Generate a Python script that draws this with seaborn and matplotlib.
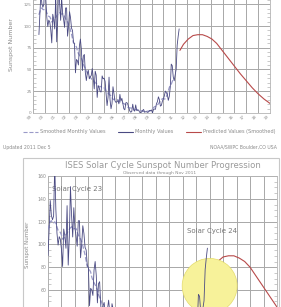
import numpy as np
import pandas as pd
import seaborn as sns
import matplotlib.pyplot as plt
from matplotlib.patches import Ellipse, Rectangle
from matplotlib.lines import Line2D
from matplotlib.ticker import MultipleLocator

# Monthly sunspot numbers, Jan 2000 .. Nov 2011
monthly = [
    90.1, 112.9, 138.5, 125.5, 121.6, 124.9, 170.1, 130.5, 109.7, 99.4, 106.8, 104.4,
    95.6, 80.6, 113.5, 107.7, 96.6, 134.0, 81.8, 106.4, 150.7, 125.5, 106.5, 132.2,
    114.1, 107.4, 98.4, 120.7, 120.8, 88.3, 99.6, 116.4, 109.6, 97.5, 95.0, 81.6,
    79.5, 46.2, 61.5, 60.0, 55.2, 77.4, 85.0, 72.7, 48.7, 65.5, 67.3, 46.5,
    37.3, 45.8, 49.1, 39.3, 41.5, 43.2, 51.1, 40.9, 27.7, 48.0, 43.5, 17.9,
    31.3, 29.2, 24.5, 24.2, 42.7, 39.3, 40.0, 36.4, 22.1, 8.5, 18.0, 41.2,
    15.3, 4.9, 10.6, 30.2, 22.3, 13.9, 12.2, 12.9, 14.4, 10.5, 21.4, 13.6,
    16.9, 10.6, 4.8, 3.7, 11.7, 12.0, 10.0, 6.2, 2.4, 0.9, 1.7, 10.1,
    3.3, 2.1, 9.3, 2.9, 3.2, 3.4, 0.8, 0.5, 1.1, 2.9, 4.1, 0.8,
    1.5, 1.4, 0.7, 1.2, 2.9, 2.6, 3.5, 0.0, 4.2, 4.6, 4.2, 10.6,
    13.1, 18.6, 15.4, 7.9, 8.8, 13.5, 16.1, 19.6, 25.2, 23.5, 21.6, 14.5,
    19.0, 29.4, 56.2, 54.4, 41.6, 37.0, 43.9, 50.6, 78.0, 88.0, 96.7,
]
# 13-month smoothed values, Jan 2000 .. May 2011
smoothed = [
    112.9, 116.8, 119.9, 120.8, 119.0, 118.7, 119.8, 118.6, 115.1, 112.3, 111.1, 110.6,
    108.1, 104.6, 104.8, 107.5, 108.6, 109.8, 111.7, 113.3, 114.6, 115.5, 114.3, 113.6,
    114.0, 113.9, 110.7, 108.3, 106.1, 104.7, 102.2, 98.9, 94.8, 90.8, 85.5, 80.4,
    79.7, 77.6, 75.8, 71.3, 68.4, 66.5, 64.7, 62.6, 60.0, 56.0, 53.5, 51.3,
    48.4, 45.6, 43.8, 42.7, 40.9, 39.6, 38.4, 37.1, 36.6, 35.0, 34.0, 33.6,
    31.0, 30.3, 30.6, 30.0, 30.1, 29.5, 28.9, 27.7, 25.1, 23.7, 22.9, 21.6,
    20.5, 19.9, 17.9, 15.9, 15.3, 16.3, 16.2, 15.4, 15.2, 14.4, 12.6, 12.2,
    12.0, 11.4, 10.8, 10.2, 9.5, 8.3, 6.9, 6.0, 5.8, 5.8, 5.5, 5.2,
    4.6, 4.1, 4.0, 4.1, 3.8, 3.4, 3.3, 3.0, 2.5, 1.8, 1.7, 1.7,
    1.8, 1.9, 2.0, 2.2, 2.3, 2.7, 3.6, 4.8, 6.2, 7.1, 7.6, 8.3,
    9.3, 10.6, 12.3, 14.0, 15.5, 16.4, 16.5, 16.0, 16.4, 18.8, 22.0, 25.4,
    29.2, 31.9, 33.1, 36.1, 39.5,
]
pred_years = [2011.9, 2012.2, 2012.6, 2013.0, 2013.4, 2013.8, 2014.2, 2014.6, 2015.0, 2015.4,
              2015.8, 2016.2, 2016.6, 2017.0, 2017.5, 2018.0, 2018.5, 2019.0, 2019.5]
pred_values = [72, 79, 85, 89, 90, 90, 88, 85, 80, 73, 66, 59, 52, 45, 37, 29, 22, 16, 11]

month_years = 2000 + np.arange(len(monthly)) / 12
smooth_years = 2000 + np.arange(len(smoothed)) / 12
df_m = pd.DataFrame({"year": month_years, "ssn": monthly})
df_s = pd.DataFrame({"year": smooth_years, "ssn": smoothed})
df_p = pd.DataFrame({"year": pred_years, "ssn": pred_values})

top_ticks = 1999.5 + np.arange(21)
top_labels = [f"{int(t) % 100:02d}" for t in top_ticks]

C_MON = "#4a4a82"
C_SMO = "#9a9ac8"
C_PRED = "#b84a4a"
C_TXT = "#8a8a8a"

sns.set_style("whitegrid")
plt.rcParams['font.family'] = ['DejaVu Sans']

fig = plt.figure(figsize=(2.81, 3.07), dpi=100)
W, H = 281, 307


def style(ax):
    ax.grid(True, which='major', color='#a8a8a8', lw=0.7)
    for s in ax.spines.values():
        s.set_color('#b4b4b4')
        s.set_linewidth(0.6)
    ax.tick_params(which='both', direction='in', colors='#a0a0a0',
                   labelcolor=C_TXT, labelsize=3, length=0, pad=1)
    ax.yaxis.set_minor_locator(MultipleLocator(5))
    ax.tick_params(axis='y', which='minor', length=2, width=0.4, left=True, right=True)
    ax.set_xlabel("")
    ax.set_ylabel("")


# ---- top chart (cropped at the top) ----
ax1 = fig.add_axes([33 / W, 1 - 113 / H, 237 / W, 174 / H])
sns.lineplot(data=df_s, x="year", y="ssn", ax=ax1, color=C_SMO, lw=0.9, linestyle="--")
sns.lineplot(data=df_m, x="year", y="ssn", ax=ax1, color=C_MON, lw=0.6)
sns.lineplot(data=df_p, x="year", y="ssn", ax=ax1, color=C_PRED, lw=0.8)
ax1.set_xlim(1999.5, 2019.5)
ax1.set_ylim(0, 200)
ax1.set_xticks(top_ticks)
ax1.set_xticklabels(top_labels, rotation=45, ha="right")
ax1.set_yticks(np.arange(0, 126, 25))
style(ax1)

fig.text(12 / W, 1 - 45 / H, "Sunspot Number", rotation=90, ha="center", va="center",
         fontsize=4.5, color=C_TXT)

handles = [Line2D([], [], color=C_SMO, lw=0.8, linestyle="--"),
           Line2D([], [], color=C_MON, lw=0.8),
           Line2D([], [], color=C_PRED, lw=0.8)]
fig.legend(handles, ["Smoothed Monthly Values", "Monthly Values", "Predicted Values (Smoothed)"],
           loc="center", bbox_to_anchor=(18 / W, 1 - 137 / H, 262 / W, 10 / H), mode="expand",
           ncol=3, frameon=False, fontsize=3.6, handlelength=3, labelcolor=C_TXT,
           columnspacing=1.0, handletextpad=0.5)
fig.text(3 / W, 1 - 147 / H, "Updated 2011 Dec 5", fontsize=3.3, color=C_TXT, va="center")
fig.text(277 / W, 1 - 147 / H, "NOAA/SWPC Boulder,CO USA", fontsize=3.3, color=C_TXT,
         va="center", ha="right")

# ---- bottom chart (cropped at the bottom) ----
fig.add_artist(Rectangle((23 / W, -0.1), 256 / W, 0.1 + (H - 158) / H, transform=fig.transFigure,
                         fill=False, edgecolor="#c8c8c8", lw=0.8))
fig.text(163 / W, 1 - 166 / H, "ISES Solar Cycle Sunspot Number Progression", ha="center",
         va="center", fontsize=6.1, color="#9a9a9a")
fig.text(160 / W, 1 - 173 / H, "Observed data through Nov 2011", ha="center", va="center",
         fontsize=3.2, color=C_TXT)

ax2 = fig.add_axes([48 / W, 1 - 176 / H - 182.4 / H, 229 / W, 182.4 / H])
sns.lineplot(data=df_p, x="year", y="ssn", ax=ax2, color=C_PRED, lw=0.8, zorder=2)
ax2.add_patch(Ellipse((2012.0, 63.6), 4.08, 48.2, facecolor="#f7f29a", edgecolor="#e4dc6a",
                      lw=0.5, zorder=3))
sns.lineplot(data=df_s, x="year", y="ssn", ax=ax2, color=C_SMO, lw=0.9, linestyle="--", zorder=4)
sns.lineplot(data=df_m, x="year", y="ssn", ax=ax2, color=C_MON, lw=0.6, zorder=4)
ax2.set_xlim(2000, 2017)
ax2.set_ylim(0, 160)
ax2.set_xticks(np.arange(2000, 2018))
ax2.set_yticks(np.arange(60, 161, 20))
style(ax2)
ax2.tick_params(labelsize=3.3, labelbottom=False)
ax2.text(2002.15, 149, "Solar Cycle 23", ha="center", va="center", fontsize=5, color="#777777")
ax2.text(2012.2, 112, "Solar Cycle 24", ha="center", va="center", fontsize=5, color="#777777")
fig.text(28 / W, 1 - 245 / H, "Sunspot Number", rotation=90, ha="center", va="center",
         fontsize=4, color=C_TXT)

fig.savefig("out.png", dpi=100)
plt.close(fig)
